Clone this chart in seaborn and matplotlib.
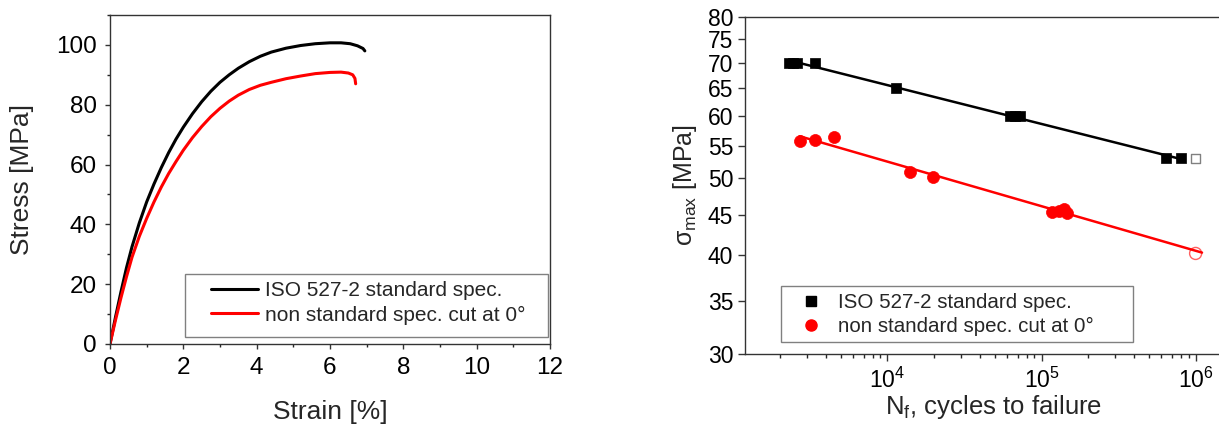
import numpy as np
import pandas as pd
import matplotlib
matplotlib.use('Agg')
import matplotlib.pyplot as plt
import matplotlib.ticker as mticker
from matplotlib.lines import Line2D
from matplotlib.patches import Rectangle
import seaborn as sns

# stress-strain curves
std_strain = [0, 0.15, 0.3, 0.45, 0.6, 0.8, 1.0, 1.2, 1.4, 1.6, 1.8, 2.0, 2.25, 2.5, 2.75,
              3.0, 3.25, 3.5, 3.8, 4.1, 4.4, 4.8, 5.2, 5.6, 6.0, 6.3, 6.55, 6.75, 6.9, 6.95]
std_stress = [0, 9, 17.5, 25.5, 32.5, 40.5, 47.5, 53.5, 59, 64, 68.5, 72.5, 77, 81, 84.5,
              87.5, 90, 92.2, 94.4, 96.2, 97.6, 98.9, 99.8, 100.4, 100.7, 100.7, 100.4, 99.7, 98.8, 98.0]
cut_strain = [0, 0.15, 0.3, 0.45, 0.6, 0.8, 1.0, 1.2, 1.4, 1.6, 1.8, 2.0, 2.25, 2.5, 2.75,
              3.0, 3.25, 3.5, 3.8, 4.1, 4.4, 4.8, 5.2, 5.6, 6.0, 6.3, 6.5, 6.62, 6.68, 6.7]
cut_stress = [0, 8, 15.5, 22.5, 29, 36, 42, 47.5, 52.5, 57, 61, 64.8, 69, 72.7, 76,
              78.8, 81.2, 83.2, 85.1, 86.5, 87.5, 88.7, 89.6, 90.4, 90.8, 90.9, 90.6, 90.0, 88.8, 87.0]

# fatigue data
std_cycles = [2300, 2450, 2600, 3375, 11300, 62000, 67000, 72500, 646000, 807000]
std_smax = [70, 70, 70, 70, 65, 60, 60, 60, 53, 53]
std_runout_cycles = [1.0e6]
std_runout_smax = [53]
cut_cycles = [2690, 3375, 4480, 13970, 19900, 116700, 129000, 139700, 147000]
cut_smax = [55.8, 55.9, 56.4, 50.9, 50.2, 45.3, 45.5, 45.8, 45.2]
cut_runout_cycles = [1.0e6]
cut_runout_smax = [40.2]
std_fit_range = [2300, 8.1e5]
cut_fit_range = [2690, 1.1e6]

label_std = 'ISO 527-2 standard spec.'
label_cut = 'non standard spec. cut at 0°'

sns.set_theme(style='ticks')
plt.rcParams['font.family'] = ['Liberation Sans', 'DejaVu Sans']
plt.rcParams['mathtext.fontset'] = 'custom'
plt.rcParams['mathtext.rm'] = 'Liberation Sans'
plt.rcParams['mathtext.it'] = 'Liberation Sans:italic'
plt.rcParams['mathtext.default'] = 'regular'

fig = plt.figure(figsize=(12.19, 4.26), dpi=100)
ax1 = fig.add_axes([110 / 1219, 1 - 344 / 426, 440 / 1219, 329 / 426])
ax2 = fig.add_axes([745 / 1219, 1 - 354 / 426, 497 / 1219, 337 / 426])


def legend_box(ax, x0, y0, x1, y1):
    # Origin-style legend frame, drawn separately so padding can differ per side
    ax.add_patch(Rectangle((x0, y0), x1 - x0, y1 - y0, transform=ax.transAxes,
                           facecolor='white', edgecolor='#808080', lw=1.0, zorder=4))


# ---- left: stress-strain ----
sns.lineplot(x=std_strain, y=std_stress, sort=False, estimator=None, color='black',
             lw=2.2, ax=ax1, label=label_std)
sns.lineplot(x=cut_strain, y=cut_stress, sort=False, estimator=None, color='red',
             lw=2.2, ax=ax1, label=label_cut)
ax1.set_xlim(0, 12)
ax1.set_ylim(0, 110)
ax1.xaxis.set_major_locator(mticker.MultipleLocator(2))
ax1.xaxis.set_minor_locator(mticker.MultipleLocator(1))
ax1.yaxis.set_major_locator(mticker.MultipleLocator(20))
ax1.yaxis.set_minor_locator(mticker.MultipleLocator(10))
ax1.tick_params(which='major', direction='out', length=3.5, width=1, labelsize=17.5, pad=6)
ax1.tick_params(which='minor', direction='out', length=2.5, width=1)
ax1.set_xlabel('Strain [%]', fontsize=19, labelpad=15)
ax1.set_ylabel('Stress [MPa]', fontsize=19, labelpad=16)
legend_box(ax1, 0.1705, 0.0213, 0.995, 0.2128)
leg1 = ax1.legend(loc='upper left', bbox_to_anchor=(0.2295, 0.19), borderaxespad=0,
                  borderpad=0, fontsize=15, handlelength=2.26, frameon=False,
                  labelspacing=0.25, handletextpad=0.34)
leg1.set_zorder(5)

# ---- right: fatigue ----
def power_fit(n, s, rng):
    b, a = np.polyfit(np.log10(n), np.log10(s), 1)
    xs = np.array(rng)
    return xs, 10 ** (a + b * np.log10(xs))

fx, fy = power_fit(std_cycles, std_smax, std_fit_range)
sns.lineplot(x=fx, y=fy, color='black', lw=1.8, ax=ax2)
fx, fy = power_fit(cut_cycles, cut_smax, cut_fit_range)
sns.lineplot(x=fx, y=fy, color='red', lw=1.8, ax=ax2)

sns.scatterplot(x=std_cycles, y=std_smax, marker='s', s=60, color='black',
                edgecolor='black', linewidth=0.5, ax=ax2)
sns.scatterplot(x=cut_cycles, y=cut_smax, marker='o', s=75, color='red',
                edgecolor='red', linewidth=0.5, ax=ax2)
sns.scatterplot(x=std_runout_cycles, y=std_runout_smax, marker='s', s=45,
                facecolor='none', edgecolor='#808080', linewidth=1.0, ax=ax2)
sns.scatterplot(x=cut_runout_cycles, y=cut_runout_smax, marker='o', s=75,
                facecolor='none', edgecolor='#ff6060', linewidth=1.0, ax=ax2)

ax2.set_xscale('log')
ax2.set_yscale('log')
ax2.set_xlim(1190, 2.0e6)
ax2.set_ylim(30, 80)
ax2.yaxis.set_major_locator(mticker.FixedLocator(np.arange(30, 81, 5)))
ax2.yaxis.set_major_formatter(mticker.FormatStrFormatter('%d'))
ax2.yaxis.set_minor_locator(mticker.NullLocator())
ax2.xaxis.set_major_locator(mticker.LogLocator(base=10))
ax2.xaxis.set_minor_locator(mticker.LogLocator(base=10, subs=np.arange(2, 10)))
ax2.xaxis.set_minor_formatter(mticker.NullFormatter())
ax2.xaxis.set_major_formatter(mticker.FuncFormatter(
    lambda v, p: r'10$^{%d}$' % int(round(np.log10(v)))))
ax2.tick_params(which='major', direction='out', length=5, width=1, labelsize=16.5, pad=3.5)
ax2.tick_params(axis='x', which='major', pad=5)
ax2.tick_params(which='minor', direction='out', length=3, width=1)
ax2.set_xlabel(r'N$_{f}$, cycles to failure', fontsize=18.5, labelpad=0)
ax2.set_ylabel(r'σ$_{max}$ [MPa]', fontsize=18, labelpad=6)

legend_box(ax2, 0.0724, 0.0356, 0.7807, 0.2018)
handles = [Line2D([], [], marker='s', color='black', ls='none', markersize=7),
           Line2D([], [], marker='o', color='red', ls='none', markersize=8)]
leg2 = ax2.legend(handles, [label_std, label_cut], loc='upper left',
                  bbox_to_anchor=(0.1016, 0.181), borderaxespad=0, borderpad=0,
                  fontsize=14.8, frameon=False, labelspacing=0.25,
                  handlelength=1.5, handletextpad=0.55)
leg2.set_zorder(5)

for ax in (ax1, ax2):
    for sp in ax.spines.values():
        sp.set_color('#333333')
        sp.set_linewidth(1.0)
    ax.tick_params(colors='#333333', labelcolor='black')

fig.savefig('out.png', dpi=100, facecolor='white')
